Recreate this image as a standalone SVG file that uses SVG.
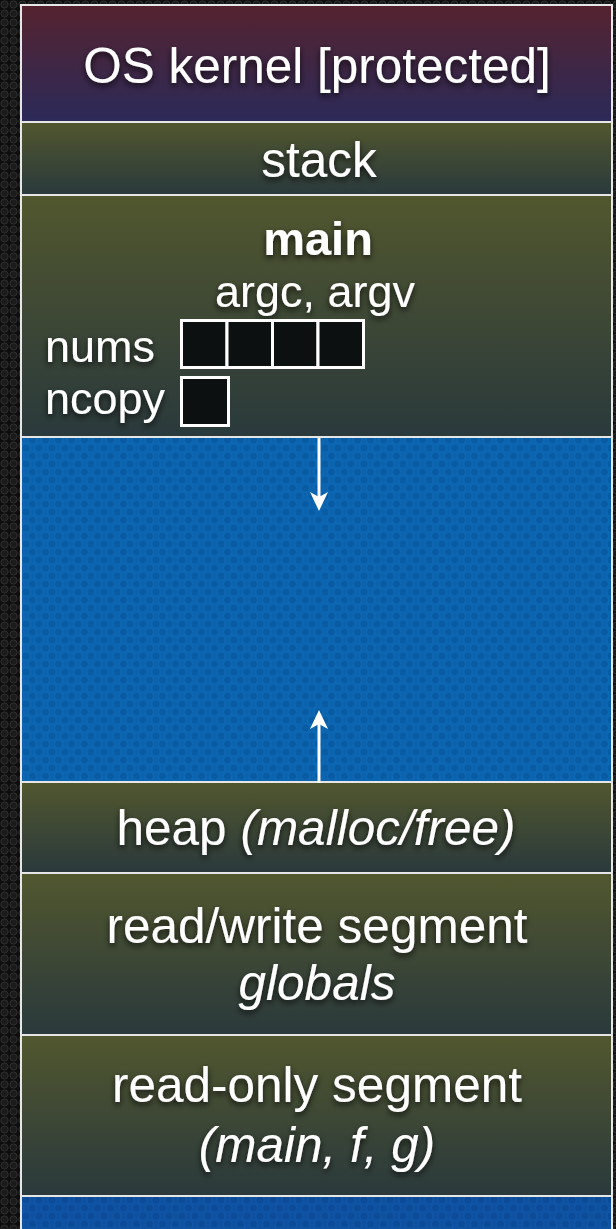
<svg xmlns="http://www.w3.org/2000/svg" width="616" height="1229" viewBox="0 0 616 1229">
<defs>
<pattern id="bgpat" width="9" height="9" patternUnits="userSpaceOnUse">
<rect width="9" height="9" fill="#0e0e0e"/>
<circle cx="4.5" cy="4.5" r="3.6" fill="#1b1b1b" stroke="#2e2e2e" stroke-width="1"/>
</pattern>
<pattern id="bluepat" width="13" height="16" patternUnits="userSpaceOnUse">
<rect width="13" height="16" fill="#0a63ae"/>
<g fill="#085ca4" stroke="#0d68b4" stroke-width="1.5">
<circle cx="0" cy="0" r="4.3"/>
<circle cx="13" cy="0" r="4.3"/>
<circle cx="6.5" cy="8" r="4.3"/>
<circle cx="0" cy="16" r="4.3"/>
<circle cx="13" cy="16" r="4.3"/>
</g>
</pattern>
<pattern id="bluepat2" width="13" height="16" patternUnits="userSpaceOnUse">
<rect width="13" height="16" fill="#0d50a0"/>
<g fill="#0b4b98" stroke="#1055a6" stroke-width="1.5">
<circle cx="0" cy="0" r="4.3"/>
<circle cx="13" cy="0" r="4.3"/>
<circle cx="6.5" cy="8" r="4.3"/>
<circle cx="0" cy="16" r="4.3"/>
<circle cx="13" cy="16" r="4.3"/>
</g>
</pattern>
<linearGradient id="gKernel" x1="0" y1="0" x2="0" y2="1">
<stop offset="0" stop-color="#55232f"/>
<stop offset="1" stop-color="#2b2a59"/>
</linearGradient>
<linearGradient id="gOlive" x1="0" y1="0" x2="0" y2="1">
<stop offset="0" stop-color="#51572e"/>
<stop offset="1" stop-color="#2a393c"/>
</linearGradient>
<filter id="shadow" x="-20%" y="-30%" width="140%" height="160%">
<feGaussianBlur in="SourceAlpha" stdDeviation="3"/>
<feOffset dx="0" dy="3" result="b"/>
<feFlood flood-color="#000" flood-opacity="0.75"/>
<feComposite in2="b" operator="in"/>
<feMerge><feMergeNode/><feMergeNode in="SourceGraphic"/></feMerge>
</filter>
</defs>
<style>
.seg{stroke:#e6e6e6;stroke-width:2}
.t{font-family:"Liberation Sans",Arial,sans-serif;fill:#ffffff;font-size:49.5px;text-anchor:middle;filter:url(#shadow)}
.s{font-size:45px}
.l{text-anchor:start}
.b{font-weight:bold;font-size:47px}
.i{font-style:italic}
.cell{fill:#0c1010;stroke:#ffffff;stroke-width:3}
.arr{stroke:#ffffff;stroke-width:3;fill:none}
.head{fill:#ffffff}
</style>
<rect width="616" height="1229" fill="url(#bgpat)"/>

<g id="kernel">
<rect class="seg" x="21" y="5" width="591" height="117" fill="url(#gKernel)"/>
<text class="t" x="317" y="83">OS kernel [protected]</text>
</g>
<g id="stack">
<rect class="seg" x="21" y="122" width="591" height="73" fill="url(#gOlive)"/>
<text class="t" x="319" y="177">stack</text>
</g>
<g id="main">
<rect class="seg" x="21" y="195" width="591" height="242" fill="url(#gOlive)"/>
<text class="t b" x="318" y="255">main</text>
<text class="t s" x="315" y="307">argc, argv</text>
<text class="t s l" x="45" y="362">nums</text>
<text class="t s l" x="45" y="414">ncopy</text>
<g id="nums-cells">
<rect class="cell" x="181.5" y="320.5" width="45.5" height="47"/>
<rect class="cell" x="227" y="320.5" width="45.5" height="47"/>
<rect class="cell" x="272.5" y="320.5" width="45.5" height="47"/>
<rect class="cell" x="318" y="320.5" width="45.5" height="47"/>
</g>
<rect id="ncopy-cell" class="cell" x="181.5" y="377.5" width="47" height="48"/>
</g>
<g id="free">
<rect class="seg" x="21" y="437" width="591" height="345" fill="url(#bluepat)"/>
</g>
<g id="heap">
<rect class="seg" x="21" y="782" width="591" height="91" fill="url(#gOlive)"/>
<text class="t" x="316" y="845">heap <tspan class="i">(malloc/free)</tspan></text>
</g>
<g id="rw">
<rect class="seg" x="21" y="873" width="591" height="162" fill="url(#gOlive)"/>
<text class="t" x="317" y="943">read/write segment</text>
<text class="t i" x="317" y="1000">globals</text>
</g>
<g id="ro">
<rect class="seg" x="21" y="1035" width="591" height="161" fill="url(#gOlive)"/>
<text class="t" x="317" y="1102">read-only segment</text>
<text class="t i" x="317" y="1162">(main, f, g)</text>
</g>
<g id="bottom">
<rect class="seg" x="21" y="1196" width="591" height="40" fill="url(#bluepat2)"/>
</g>

<g id="connectors">
<line class="arr" x1="319" y1="438" x2="319" y2="498"/>
<polygon class="head" points="310,492 319,511 328,492 319,497"/>
<line class="arr" x1="319" y1="783" x2="319" y2="722"/>
<polygon class="head" points="310,729 319,710 328,729 319,724"/>
</g>
</svg>
